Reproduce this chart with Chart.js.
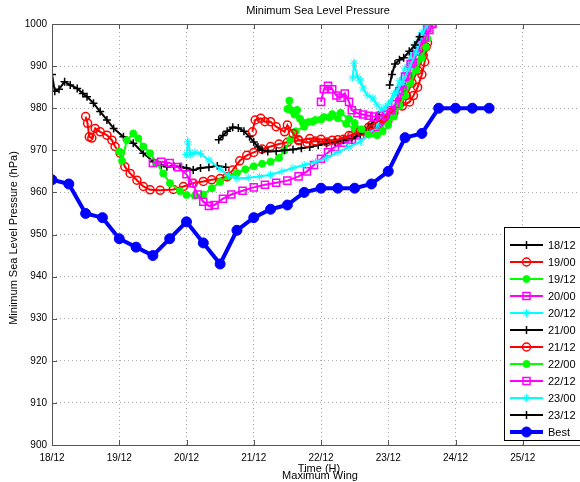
<!DOCTYPE html>
<html>
<head>
<meta charset="utf-8">
<script src="https://cdn.jsdelivr.net/npm/chart.js@4.4.0/dist/chart.umd.min.js"></script>
<style>
  html, body { margin: 0; padding: 0; background: #fff; overflow: hidden; width: 580px; height: 482px; }
  canvas { display: block; }
</style>
</head>
<body>
<canvas id="mslp" width="610" height="482"></canvas>
<script>
// x = hours since 18/12 00, y = pressure (hPa)
const dayLabels = ['18/12', '19/12', '20/12', '21/12', '22/12', '23/12', '24/12', '25/12'];
const runNames = ['18/12', '19/00', '19/12', '20/00', '20/12', '21/00', '21/12', '22/00', '22/12', '23/00', '23/12'];

const run1812 = [[0,988],[1,984],[2.5,984.5],[4.5,986.3],[6.5,985.5],[9,984.7],[11,983.5],[12.5,982.7],[14.8,981.2],[17.2,979.2],[19.6,977.2],[22,975.2],[25.5,973.2],[29,971.7],[32.6,969.3],[36.2,967.3],[39,966.5],[41,966.1],[43.5,966.2],[45.7,966.1],[48,965.8],[50.4,965.3],[53,965.8],[56,966],[59,966.3],[62,966]];
const run1900 = [[12,978],[12.7,976.4],[13.3,973.2],[14.2,972.9],[15.4,975.2],[17.2,974.4],[19.6,973.6],[21.4,972.4],[22.5,970.9],[24.3,969.3],[26,966.1],[27.9,964.5],[30.3,962.9],[32.6,961.4],[35,960.6],[38.6,960.5],[43.3,960.7],[46.9,961.4],[50.4,962.2],[54,962.6],[57,963],[60,963.3],[62.5,963.7],[64.5,965.3],[67,967.5],[69.5,968.8],[72,969.5],[75,970.3],[78,970.9],[81,971.5],[84,971.9],[88,972.3],[92,972.8],[96,972.6],[100,972.4],[104,972.6],[107,973.5],[110,974.5],[113,975.5],[116,976.5],[119,977.5],[122,979],[125,980.5],[127.6,981.5],[129,983],[130.5,985],[132,988],[133,991],[134,995.5]];
const run1912 = [[24,969.7],[25,967.5],[26.7,972.4],[29,974],[30.8,972.8],[32.6,970.9],[35,969.3],[37.4,966.9],[39.7,964.5],[42.1,962.2],[45.7,960.3],[48,959.4],[51,959.2],[54,959.5],[57,961],[60,962.5],[63,963.8],[66,964.6],[69,965.5],[72,966.2],[75,966.8],[78,967.3],[81,968.2],[83,970],[85,972.5],[87,974.5],[90,975.6],[93,976.8],[96,977.3],[99,977.8],[102,977.6],[105,976.3],[108,975],[111,974.2],[114,974],[117,975.5],[120,977.5],[122,979.5],[124,982],[126,984.5],[128,987.5],[130,990.5],[132,993.5],[134,996.5]];
const run2000 = [[36,967],[39,967.3],[42,967],[45,966],[48,964.3],[50,962.2],[52,959.5],[54,957.8],[56,956.8],[58,957],[61,958.5],[64,959.5],[68,960.4],[72,961.2],[76,961.8],[80,962.3],[84,962.8],[88,963.8],[91,965],[93.5,966.5],[96,968],[98.5,969.5],[101,970.8],[104,971.8],[107,972.5],[110,973.5],[113,974.5],[116,975.5],[118,976],[120,977.5],[122,979.5],[124,981.5],[125.1,984.3],[127,987.5],[128.7,990.7],[130,992.5],[131.2,994.5],[133,996.8],[134.7,998.6],[135.8,1000]];
const run2012 = [[48,969],[48.5,972],[49.5,969],[51,969.5],[53,969.2],[56,967.7],[60,965.5],[63,964],[66,963.3],[70,963.5],[74,963.8],[78,964.2],[82,965],[86,965.8],[90,966.5],[94,967.2],[98,968.2],[102,969.5],[106,970.8],[110,972],[113,973.7],[116,976],[118,978.5],[120,981],[122,983.5],[124,986.5],[126,989.5],[128,992.5],[130,995.5],[132,998],[133.5,999.5]];
const run2100 = [[59.5,972.5],[61,973.5],[62.5,974.5],[64.5,975.5],[66.5,975.3],[68.5,974.5],[70.5,973.2],[72,972],[73.5,970.8],[75,970],[77,969.7],[80,969.8],[83,970],[86,970.2],[89,970.5],[92,970.8],[95,971.2],[98,971.6],[101,972],[104,972.4],[107,972.8],[110,973.8],[113,975.5],[116.7,978.4]];
const run2112 = [[71.5,974.4],[72.5,977.2],[74.5,977.6],[76,976.8],[78,976.8],[80,975.6],[83,974.4],[84,976],[86,974],[88,972.5],[91,971.8],[94,972.2],[98,972],[102,972.5],[106,973.5],[110,974.5],[114,976],[118,977.5],[121,979],[124,981],[126.5,983],[128.5,986],[130.5,989],[132.5,992.5],[133.5,994.5]];
const run2200 = [[84,979.8],[84.7,981.8],[85.5,979.5],[86.5,978.5],[87.5,979.6],[88.5,977.5],[89.5,976.6],[91.5,976.7],[94,977.2],[97,977.9],[100,978.6],[103,978.9],[106,977.5],[108,976.5],[110.5,975],[113,973.8],[116,973.6],[118,974.5],[120,976],[122,978],[124,980.5],[126,983],[128,986],[130,989],[132,992],[133.5,994.5]];
const run2212 = [[96,981.5],[97,984.5],[98.5,985.3],[100,984.5],[101.5,983],[103,982.5],[104.5,983.5],[106,981.5],[107,979.5],[109,978.8],[111,978.5],[113,978.2],[115,978],[117,978.2],[119,978.5],[121,979.5],[122.5,981],[124,984],[126,987.5],[128,990.5],[130,993.5],[132,996.5],[134,999],[135.5,1000]];
const run2300 = [[107.3,987.2],[107.8,990.7],[109,987.5],[110,986.5],[111,984.8],[112.5,983.1],[114.5,982.4],[116,980.8],[117.5,979.6],[119,980.3],[121,981.5],[123,983.8],[125,986.2],[127.5,989.5],[130,993.3],[132,997.4],[134,999.8]];
const run2312 = [[120.5,985.5],[121.3,988],[122.4,990.5],[124,991.5],[125.5,992],[127.5,993.5],[129.5,995],[131.2,997]];

const bestHours = [0, 6, 12, 18, 24, 30, 36, 42, 48, 54, 60, 66, 72, 78, 84, 90, 96, 102, 108, 114, 120, 126, 132, 138, 144, 150, 156];
const bestPressure = [963, 962, 955, 954, 949, 947, 945, 949, 953, 948, 943, 951, 954, 956, 957, 960, 961, 961, 961, 962, 965, 973, 974, 980, 980, 980, 980];

const runs = [run1812, run1900, run1912, run2000, run2012, run2100, run2112, run2200, run2212, run2300, run2312];

// MATLAB-ish line specs, cycling k+ / ro / g. / ms / c*
const specs = [
    { color: '#000000', style: 'cross', radius: 4, fill: '#000000', bw: 1.5 },
    { color: '#ff0000', style: 'circle', radius: 4, fill: 'rgba(0,0,0,0)', bw: 1.5 },
    { color: '#00ff00', style: 'circle', radius: 3.5, fill: '#00ff00', bw: 1 },
    { color: '#ff00ff', style: 'rect', radius: 5, fill: 'rgba(0,0,0,0)', bw: 1.5 },
    { color: '#00ffff', style: 'star', radius: 4, fill: '#00ffff', bw: 1 }
];

const datasets = runs.map((run, i) => {
    const s = specs[i % specs.length];
    return {
        label: runNames[i],
        data: run.map(p => ({ x: p[0], y: p[1] })),
        showLine: true,
        borderColor: s.color,
        backgroundColor: s.color,
        borderWidth: 2,
        pointStyle: s.style,
        pointRadius: s.radius,
        pointBackgroundColor: s.fill,
        pointBorderColor: s.color,
        pointBorderWidth: s.bw,
        order: 30 - i
    };
});

datasets.push({
    label: 'Best',
    data: bestHours.map((h, i) => ({ x: h, y: bestPressure[i] })),
    showLine: true,
    borderColor: '#0000ff',
    backgroundColor: '#0000ff',
    borderWidth: 4,
    pointStyle: 'circle',
    pointRadius: 5,
    pointBackgroundColor: '#0000ff',
    pointBorderColor: '#0000ff',
    pointBorderWidth: 1,
    order: 0
});

const FONT = '"Liberation Sans", Arial, Helvetica, sans-serif';

const decorations = {
    id: 'decorations',
    afterDraw(chart) {
        const ctx = chart.ctx;
        const area = chart.chartArea;
        const xs = chart.scales.x, ys = chart.scales.y;
        ctx.save();

        // frame
        ctx.strokeStyle = '#555';
        ctx.lineWidth = 1;
        ctx.strokeRect(area.left + 0.5, area.top + 0.5, area.right - area.left, area.bottom - area.top);

        // inward ticks
        ctx.beginPath();
        for (let d = 0; d <= 8; d++) {
            const x = Math.round(xs.getPixelForValue(d * 24)) + 0.5;
            ctx.moveTo(x, area.bottom); ctx.lineTo(x, area.bottom - 5);
            ctx.moveTo(x, area.top); ctx.lineTo(x, area.top + 5);
        }
        for (let v = 900; v <= 1000; v += 10) {
            const y = Math.round(ys.getPixelForValue(v)) + 0.5;
            ctx.moveTo(area.left, y); ctx.lineTo(area.left + 5, y);
        }
        ctx.stroke();

        // texts
        ctx.fillStyle = '#000';
        ctx.font = '11px ' + FONT;
        ctx.textAlign = 'center';
        ctx.textBaseline = 'middle';
        ctx.fillText('Minimum Sea Level Pressure', 318, 11);
        ctx.fillText('Time (H)', 319, 469);
        ctx.fillText('Maximum Wing', 320, 476);

        ctx.save();
        ctx.translate(14, 238);
        ctx.rotate(-Math.PI / 2);
        ctx.fillText('Minimum Sea Level Pressure (hPa)', 0, 0);
        ctx.restore();

        // legend box
        const bx = 504, by = 227, bw = 84, bh = 213;
        ctx.fillStyle = '#fff';
        ctx.fillRect(bx, by, bw, bh);
        ctx.strokeStyle = '#000';
        ctx.lineWidth = 1;
        ctx.strokeRect(bx + 0.5, by + 0.5, bw, bh);

        chart.data.datasets.forEach((ds, i) => {
            const y = 245 + i * 17;
            ctx.strokeStyle = ds.borderColor;
            ctx.lineWidth = ds.borderWidth;
            ctx.beginPath();
            ctx.moveTo(510, y);
            ctx.lineTo(543, y);
            ctx.stroke();
            ctx.fillStyle = ds.pointBackgroundColor;
            ctx.strokeStyle = ds.pointBorderColor;
            ctx.lineWidth = ds.pointBorderWidth;
            Chart.helpers.drawPoint(ctx, {
                pointStyle: ds.pointStyle,
                radius: ds.pointRadius,
                rotation: 0,
                borderWidth: ds.pointBorderWidth
            }, 526.5, y);
            ctx.fillStyle = '#000';
            ctx.font = '11px ' + FONT;
            ctx.textAlign = 'left';
            ctx.fillText(ds.label, 548, y + 1);
        });

        ctx.restore();
    }
};

new Chart(document.getElementById('mslp').getContext('2d'), {
    type: 'scatter',
    data: { datasets: datasets },
    options: {
        responsive: false,
        animation: false,
        devicePixelRatio: 1,
        layout: { padding: { top: 24, right: 20, left: 0, bottom: 0 } },
        plugins: {
            legend: { display: false },
            tooltip: { enabled: false },
            title: { display: false }
        },
        elements: { line: { tension: 0 } },
        scales: {
            x: {
                type: 'linear',
                min: 0,
                max: 192,
                afterFit: (s) => { s.height = 37; },
                afterBuildTicks: (s) => {
                    s.ticks = [0, 1, 2, 3, 4, 5, 6, 7, 8].map(d => ({ value: d * 24 }));
                },
                ticks: {
                    autoSkip: false,
                    maxRotation: 0,
                    padding: 7,
                    color: '#000',
                    font: { family: FONT, size: 10 },
                    callback: (v) => dayLabels[v / 24] || ''
                },
                grid: { color: '#aaa', lineWidth: 1, drawTicks: false },
                border: { display: false, dash: [1, 3] }
            },
            y: {
                min: 900,
                max: 1000,
                afterFit: (s) => { s.width = 52; },
                ticks: {
                    stepSize: 10,
                    padding: 5,
                    color: '#000',
                    font: { family: FONT, size: 10 },
                    callback: (v) => String(v)
                },
                grid: { color: '#aaa', lineWidth: 1, drawTicks: false },
                border: { display: false, dash: [1, 3] }
            }
        }
    },
    plugins: [decorations]
});
</script>
</body>
</html>
